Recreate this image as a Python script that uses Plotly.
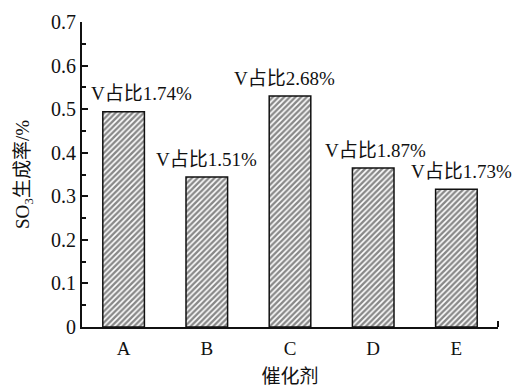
import plotly.graph_objects as go

categories = ["A", "B", "C", "D", "E"]
so3_rate = [0.494, 0.344, 0.530, 0.365, 0.316]
v_labels = ["V占比1.74%", "V占比1.51%", "V占比2.68%", "V占比1.87%", "V占比1.73%"]
y_ticks = [0, 0.1, 0.2, 0.3, 0.4, 0.5, 0.6, 0.7]

label_xshift = [18, 0, -6, 2, 5]
label_yshift = [6, 5, 5, 5, 5]

FONT = "Liberation Serif, Times New Roman, Noto Sans CJK SC, serif"

fig = go.Figure()
fig.add_trace(go.Bar(
    x=categories, y=so3_rate, width=0.5,
    marker=dict(color="white",
                line=dict(color="#111111", width=1.5),
                pattern=dict(shape="/", fgcolor="#111111", bgcolor="white",
                             size=4, solidity=0.6)),
    showlegend=False,
))

for c, v, t, dx, dy in zip(categories, so3_rate, v_labels, label_xshift, label_yshift):
    fig.add_annotation(x=c, y=v, text=t, showarrow=False, yanchor="bottom",
                       xshift=dx, yshift=dy,
                       font=dict(family=FONT, size=19, color="#111111"))

# small closing tick at the right end of the x axis
fig.add_shape(type="line", xref="paper", yref="y", x0=1, x1=1, y0=0, y1=0.014,
              line=dict(color="#111111", width=2))

fig.update_layout(
    width=512, height=387,
    margin=dict(l=82, r=14, t=22, b=60),
    plot_bgcolor="white", paper_bgcolor="white",
    font=dict(family=FONT, size=19, color="#111111"),
    bargap=0.5,
)
fig.update_xaxes(
    range=[-0.5, 4.5], showline=True, linecolor="#111111", linewidth=2,
    ticks="", showgrid=False, zeroline=False, automargin=False,
    title=dict(text="催化剂", font=dict(family=FONT, size=19), standoff=12),
    tickfont=dict(family=FONT, size=19), ticklabelstandoff=3,
)
fig.update_yaxes(
    range=[0, 0.7], showline=True, linecolor="#111111", linewidth=2,
    tickvals=y_ticks, ticktext=[("%g" % v) for v in y_ticks],
    ticks="inside", ticklen=6, tickwidth=1.5, tickcolor="#111111",
    minor=dict(ticks="inside", ticklen=4, dtick=0.05, tickwidth=1.5, tickcolor="#111111"),
    showgrid=False, zeroline=False, automargin=False,
    title=dict(text="SO<sub>3</sub>生成率/%", font=dict(family=FONT, size=19), standoff=16),
    tickfont=dict(family=FONT, size=20),
)

fig.write_html("out.html")
